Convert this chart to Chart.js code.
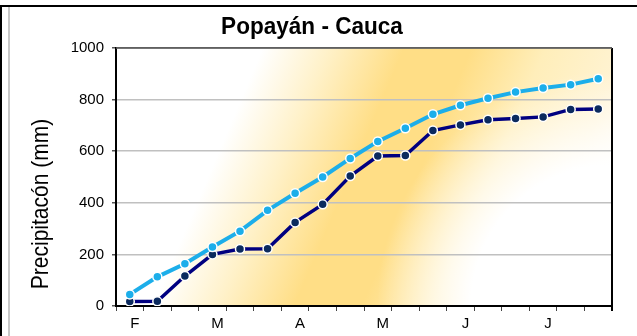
<!DOCTYPE html>
<html>
<head>
<meta charset="utf-8">
<script src="https://cdn.jsdelivr.net/npm/chart.js@4"></script>
<style>
  html, body { margin: 0; padding: 0; background: #fff; }
  #wrap { position: relative; width: 637px; height: 336px; }
  #frame { position: absolute; left: 0; top: 5px; right: 0; bottom: 0;
           border-top: 2px solid #000; border-left: 2px solid #000; }
  #inner { position: absolute; left: 8px; top: 7px; bottom: 0; width: 0;
           border-left: 2px solid #c8c8c8; }
  canvas { position: absolute; left: 0; top: 0; }
</style>
</head>
<body>
<div id="wrap">
  <div id="frame"></div>
  <div id="inner"></div>
  <canvas id="lluviaChart" width="637" height="336"></canvas>
</div>
<script>
// decadas de febrero a julio, etiqueta solo al inicio de cada mes
const categorias = ['F', '', '', 'M', '', '', 'A', '', '', 'M', '', '', 'J', '', '', 'J', '', ''];

// precipitacion acumulada (mm)
const serieClara = [45, 113, 164, 229, 290, 371, 437, 500, 572, 638, 689, 743, 778, 805, 829, 845, 858, 881];
const serieOscura = [17, 18, 116, 200, 221, 222, 324, 394, 504, 581, 583, 680, 702, 722, 727, 733, 762, 764];

const ticksY = [0, 200, 400, 600, 800, 1000];

const titulo = 'Popayán - Cauca';
const tituloEjeY = 'Precipitacón (mm)';

const fuente = '"Liberation Sans", Arial, sans-serif';

// texto estrecho (la fuente del original es condensada)
function textoEstrecho(ctx, texto, x, y, ang, escala, font) {
  ctx.save();
  ctx.translate(x, y);
  ctx.rotate(ang);
  ctx.scale(escala, 1);
  ctx.font = font;
  ctx.fillStyle = '#000';
  ctx.textAlign = 'center';
  ctx.textBaseline = 'middle';
  ctx.fillText(texto, 0, 0);
  ctx.restore();
}

// fondo degradado dorado del area de trazado
const fondoPlugin = {
  id: 'fondo',
  beforeDraw(chart) {
    const { ctx, chartArea: a } = chart;
    const w = a.right - a.left, h = a.bottom - a.top;
    const cx = a.left + w * 0.552, cy = a.top + h * 0.5;
    const nx = 0.92, ny = 0.392, d = 310;
    const g = ctx.createLinearGradient(cx - nx * d, cy - ny * d, cx + nx * d, cy + ny * d);
    g.addColorStop(0, '#ffffff');
    g.addColorStop(0.23, '#ffffff');
    g.addColorStop(0.33, '#fff1c8');
    g.addColorStop(0.44, '#ffde86');
    g.addColorStop(0.54, '#ffde86');
    g.addColorStop(0.65, '#ffeeba');
    g.addColorStop(0.77, '#fff3d2');
    g.addColorStop(0.87, '#ffffff');
    g.addColorStop(1, '#ffffff');
    ctx.save();
    ctx.fillStyle = g;
    ctx.fillRect(a.left, a.top, w, h);
    // zona blanca de la esquina inferior derecha
    const r = ctx.createRadialGradient(a.right, a.bottom, 0, a.right, a.bottom, 235);
    r.addColorStop(0, 'rgba(255,255,255,1)');
    r.addColorStop(0.6, 'rgba(255,255,255,1)');
    r.addColorStop(1, 'rgba(255,255,255,0)');
    ctx.fillStyle = r;
    ctx.fillRect(a.left, a.top, w, h);
    ctx.restore();
  },
  beforeDatasetsDraw(chart) {
    const { ctx, chartArea: a } = chart;
    ctx.save();
    ctx.strokeStyle = '#000';
    ctx.lineWidth = 2;
    ctx.beginPath();
    ctx.moveTo(a.right, a.top);
    ctx.lineTo(a.right, a.bottom + 5);
    ctx.stroke();
    ctx.strokeStyle = '#606060';
    ctx.lineWidth = 1.5;
    ctx.beginPath();
    ctx.moveTo(a.left, a.top);
    ctx.lineTo(a.right, a.top);
    ctx.stroke();
    ctx.restore();
  }
};

// titulo del grafico y del eje vertical
const textosPlugin = {
  id: 'textos',
  afterDraw(chart) {
    const ctx = chart.ctx;
    textoEstrecho(ctx, titulo, 312, 27, 0, 0.94, 'bold 24px ' + fuente);
    textoEstrecho(ctx, tituloEjeY, 41, 204, -Math.PI / 2, 0.875, '24px ' + fuente);
  }
};

const ctx = document.getElementById('lluviaChart').getContext('2d');
new Chart(ctx, {
  type: 'line',
  data: {
    labels: categorias,
    datasets: [
      {
        data: serieClara,
        borderColor: '#1caeea',
        backgroundColor: '#1caeea',
        borderWidth: 4,
        pointRadius: 4.5,
        pointBorderColor: '#ffffff',
        pointBorderWidth: 1.5,
        pointBackgroundColor: '#1caeea',
        tension: 0
      },
      {
        data: serieOscura,
        borderColor: '#000080',
        backgroundColor: '#0b2a5e',
        borderWidth: 3.5,
        pointRadius: 4.5,
        pointBorderColor: '#ffffff',
        pointBorderWidth: 1.5,
        pointBackgroundColor: '#0b2a5e',
        tension: 0
      }
    ]
  },
  options: {
    responsive: false,
    animation: false,
    layout: { padding: { left: 10, right: 25, top: 48, bottom: 0 } },
    plugins: {
      legend: { display: false },
      tooltip: { enabled: false },
      title: { display: false }
    },
    scales: {
      x: {
        offset: true,
        afterFit: s => { s.height = 30; },
        border: { color: '#000', width: 2 },
        grid: { offset: true, drawOnChartArea: false, tickLength: 5, tickColor: '#444' },
        ticks: {
          autoSkip: false, maxRotation: 0, padding: 4, labelOffset: 5,
          color: '#000', font: { family: fuente, size: 15 }
        }
      },
      y: {
        min: 0,
        max: 1000,
        afterFit: s => { s.width = 106; },
        afterBuildTicks: s => { s.ticks = ticksY.map(v => ({ value: v })); },
        border: { color: '#000', width: 2 },
        grid: {
          color: c => (c.tick && c.tick.value === 1000 ? '#606060' : '#c0c0c0'),
          lineWidth: 1.5,
          tickLength: 4,
          tickColor: '#555'
        },
        ticks: {
          padding: 8, color: '#000', font: { family: fuente, size: 15 },
          callback: v => String(v)
        }
      }
    }
  },
  plugins: [fondoPlugin, textosPlugin]
});
</script>
</body>
</html>
